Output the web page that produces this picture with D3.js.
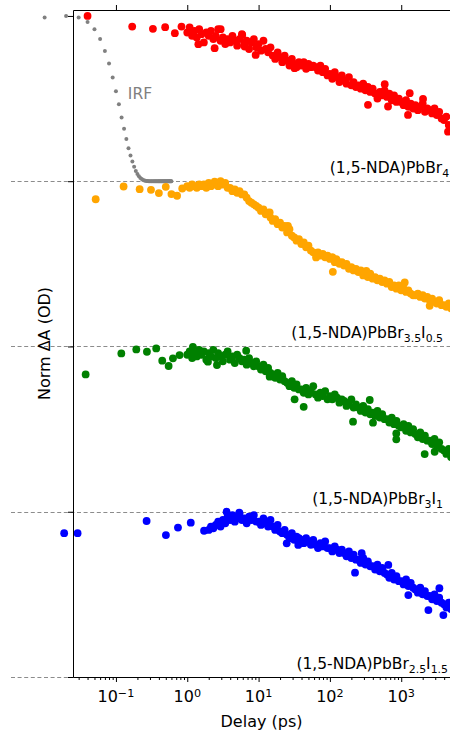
<!DOCTYPE html>
<html>
<head>
<meta charset="utf-8">
<script src="https://cdn.jsdelivr.net/npm/d3@7"></script>
<style>
  html, body { margin: 0; padding: 0; background: #fff; }
  svg { display: block; font-family: "DejaVu Sans", sans-serif; }
</style>
</head>
<body>
<svg id="chart" width="450" height="731"></svg>
<script>
// ---- Data: normalised transient absorption kinetics, stacked with unit offsets ----

// Shared delay grid (ps) for the long-time part of every trace
const delays = [
  1.00, 1.08, 1.17, 1.26, 1.36, 1.47,
  1.58, 1.71, 1.85, 2.00, 2.15, 2.32,
  2.51, 2.71, 2.93, 3.16, 3.41, 3.68,
  3.98, 4.30, 4.64, 5.01, 5.41, 5.84,
  6.31, 6.81, 7.36, 7.94, 8.58, 9.26,
  10.0, 10.8, 11.7, 12.6, 13.6, 14.7,
  15.8, 17.1, 18.5, 20.0, 21.5, 23.2,
  25.1, 27.1, 29.3, 31.6, 34.1, 36.8,
  39.8, 43.0, 46.4, 50.1, 54.1, 58.4,
  63.1, 68.1, 73.6, 79.4, 85.8, 92.6,
  100, 108, 117, 126, 136, 147,
  158, 171, 185, 200, 215, 232,
  251, 271, 293, 316, 341, 368,
  398, 430, 464, 501, 541, 584,
  631, 681, 736, 794, 858, 926,
  1000, 1080, 1170, 1260, 1360, 1470,
  1580, 1710, 1850, 2000, 2150, 2320,
  2510, 2710, 2930, 3160, 3410, 3680,
  3980, 4300, 4640, 5010
];

// (1,5-NDA)PbBr4
const redV = [
  0.90, 0.93, 0.88, 0.91, 0.87, 0.92,
  0.89, 0.84, 0.90, 0.88, 0.91, 0.86,
  0.88, 0.92, 0.85, 0.87, 0.83, 0.86,
  0.84, 0.88, 0.85, 0.82, 0.86, 0.89,
  0.83, 0.85, 0.80, 0.84, 0.86, 0.81,
  0.83, 0.79, 0.85, 0.80, 0.78, 0.81,
  0.76, 0.74, 0.78, 0.75, 0.72, 0.76,
  0.73, 0.70, 0.74, 0.71, 0.69, 0.72,
  0.70, 0.72, 0.68, 0.71, 0.69, 0.70,
  0.69, 0.67, 0.70, 0.66, 0.68, 0.64,
  0.65, 0.62, 0.66, 0.63, 0.60, 0.64,
  0.61, 0.59, 0.63, 0.58, 0.60, 0.57,
  0.58, 0.56, 0.59, 0.55, 0.57, 0.54,
  0.56, 0.53, 0.50, 0.54, 0.52, 0.55,
  0.51, 0.53, 0.49, 0.52, 0.48, 0.50,
  0.48, 0.46, 0.49, 0.45, 0.47, 0.44,
  0.46, 0.43, 0.45, 0.47, 0.42, 0.44,
  0.43, 0.41, 0.44, 0.40, 0.42, 0.38,
  0.37, 0.39, 0.34, 0.33
];
const redExtraT = [0.04, 0.169, 0.33, 0.49, 0.67, 0.83, 1.43, 2.42, 2.94, 5.9, 6.38, 9.1, 32, 342, 587, 653, 1245, 1316, 2022, 4530];
const redExtraV = [1.00, 0.936, 0.922, 0.932, 0.896, 0.936, 0.829, 0.805, 0.92, 0.885, 0.815, 0.764, 0.684, 0.462, 0.587, 0.452, 0.401, 0.533, 0.498, 0.30];

// (1,5-NDA)PbBr3.5I0.5
const orangeV = [
  0.97, 0.96, 0.98, 0.97, 0.96, 0.98,
  0.97, 0.98, 0.96, 0.99, 0.97, 0.98,
  0.99, 0.97, 1.00, 0.98, 0.99, 0.96,
  0.96, 0.94, 0.95, 0.93, 0.94, 0.92,
  0.92, 0.90, 0.88, 0.87, 0.86, 0.85,
  0.84, 0.82, 0.83, 0.80, 0.81, 0.78,
  0.76, 0.77, 0.74, 0.75, 0.72, 0.73,
  0.69, 0.71, 0.67, 0.66, 0.64, 0.65,
  0.62, 0.63, 0.60, 0.61, 0.58, 0.57,
  0.56, 0.57, 0.55, 0.56, 0.54, 0.55,
  0.53, 0.54, 0.51, 0.52, 0.50, 0.51,
  0.49, 0.50, 0.47, 0.48, 0.46, 0.47,
  0.45, 0.46, 0.43, 0.44, 0.42, 0.44,
  0.41, 0.42, 0.40, 0.41, 0.39, 0.40,
  0.38, 0.39, 0.36, 0.37, 0.35, 0.37,
  0.34, 0.35, 0.33, 0.34, 0.32, 0.31,
  0.31, 0.32, 0.30, 0.31, 0.29, 0.30,
  0.28, 0.29, 0.27, 0.26, 0.28, 0.25,
  0.25, 0.24, 0.26, 0.23
];
const orangeExtraT = [0.052, 0.128, 0.215, 0.31, 0.40, 0.50, 0.60, 0.72, 0.85, 2.42, 14.3, 25.8, 64, 110, 123, 324, 1120, 2505];
const orangeExtraV = [0.891, 0.968, 0.952, 0.948, 0.928, 0.966, 0.922, 0.912, 0.956, 0.997, 0.811, 0.73, 0.539, 0.452, 0.529, 0.458, 0.387, 0.246];

// (1,5-NDA)PbBr3I1
const greenV = [
  0.95, 0.97, 0.93, 0.96, 0.94, 0.98,
  0.95, 0.97, 0.92, 0.96, 0.94, 0.98,
  0.93, 0.96, 0.94, 0.91, 0.95, 0.97,
  0.92, 0.94, 0.90, 0.95, 0.93, 0.91,
  0.92, 0.89, 0.93, 0.90, 0.88, 0.91,
  0.88, 0.86, 0.89, 0.85, 0.87, 0.84,
  0.83, 0.81, 0.84, 0.80, 0.82, 0.79,
  0.78, 0.76, 0.79, 0.75, 0.77, 0.74,
  0.74, 0.72, 0.75, 0.71, 0.73, 0.76,
  0.71, 0.69, 0.72, 0.70, 0.73, 0.68,
  0.70, 0.68, 0.71, 0.69, 0.66, 0.68,
  0.67, 0.64, 0.66, 0.68, 0.63, 0.65,
  0.63, 0.61, 0.64, 0.60, 0.62, 0.59,
  0.60, 0.58, 0.61, 0.57, 0.59, 0.56,
  0.56, 0.54, 0.57, 0.53, 0.55, 0.52,
  0.51, 0.53, 0.49, 0.52, 0.48, 0.50,
  0.47, 0.45, 0.48, 0.44, 0.46, 0.43,
  0.43, 0.41, 0.44, 0.40, 0.42, 0.38,
  0.37, 0.35, 0.38, 0.33
];
const greenExtraT = [0.0376, 0.119, 0.193, 0.272, 0.367, 0.446, 0.548, 0.63, 0.78, 1.2, 1.95, 2.61, 6.7, 14.3, 32, 42.9, 211, 362, 402, 853, 853, 2133, 2944];
const greenExtraV = [0.831, 0.958, 0.982, 0.968, 0.988, 0.914, 0.882, 0.928, 0.948, 0.998, 0.908, 0.888, 0.974, 0.817, 0.68, 0.635, 0.545, 0.676, 0.539, 0.474, 0.438, 0.349, 0.363];

// (1,5-NDA)PbBr2.5I1.5  (no grid points recorded below 2 ps)
const blueV = [
  null, null, null, null, null, null,
  null, null, null, 0.89, 0.91, 0.90,
  0.92, 0.94, 0.91, 0.95, 0.93, 0.97,
  0.95, 0.98, 0.94, 0.96, 0.99, 0.95,
  0.96, 0.93, 0.97, 0.95, 0.98, 0.94,
  0.94, 0.92, 0.96, 0.93, 0.91, 0.95,
  0.91, 0.89, 0.92, 0.88, 0.87, 0.89,
  0.86, 0.84, 0.87, 0.83, 0.85, 0.84,
  0.83, 0.81, 0.84, 0.82, 0.80, 0.83,
  0.80, 0.78, 0.81, 0.79, 0.82, 0.78,
  0.78, 0.76, 0.79, 0.77, 0.75, 0.77,
  0.75, 0.73, 0.76, 0.72, 0.74, 0.71,
  0.71, 0.69, 0.72, 0.68, 0.70, 0.67,
  0.67, 0.65, 0.68, 0.64, 0.66, 0.63,
  0.62, 0.60, 0.63, 0.59, 0.61, 0.58,
  0.58, 0.56, 0.59, 0.55, 0.57, 0.54,
  0.53, 0.51, 0.54, 0.50, 0.52, 0.49,
  0.49, 0.47, 0.50, 0.46, 0.48, 0.45,
  0.44, 0.42, 0.45, 0.41
];
const blueExtraT = [0.0188, 0.029, 0.269, 0.502, 0.741, 1.12, 1.72, 3.56, 5.36, 24.8, 36, 225, 279, 659, 1259, 2404, 3428, 3900];
const blueExtraV = [0.870, 0.870, 0.944, 0.859, 0.904, 0.934, 0.885, 1.0, 0.994, 0.809, 0.799, 0.631, 0.749, 0.678, 0.496, 0.405, 0.537, 0.375];

// Instrument response function, shown on the top trace
const irfT = [
  0.01, 0.02, 0.03, 0.04, 0.05, 0.06, 0.07, 0.08, 0.09, 0.10,
  0.11, 0.12, 0.13, 0.14, 0.15, 0.16, 0.17, 0.18, 0.19, 0.20,
  0.21, 0.22, 0.23, 0.24, 0.25, 0.26, 0.27, 0.28, 0.29, 0.30,
  0.31, 0.32, 0.33, 0.34, 0.35, 0.36, 0.37, 0.38, 0.39, 0.40,
  0.41, 0.42, 0.43, 0.44, 0.45, 0.46, 0.47, 0.48, 0.49, 0.50,
  0.51, 0.52, 0.53, 0.54, 0.55, 0.56, 0.57, 0.58, 0.59, 0.60
];
const irfV = [
  0.99, 1.00, 0.99, 0.963, 0.919, 0.86, 0.788, 0.713, 0.628, 0.545,
  0.465, 0.386, 0.317, 0.255, 0.200, 0.156, 0.120, 0.087, 0.062, 0.044,
  0.030, 0.020, 0.013, 0.008, 0.005, 0.003, 0.002, 0.001, 0, 0,
  0, 0, 0, 0, 0, 0, 0, 0, 0, 0,
  0, 0, 0, 0, 0, 0, 0, 0, 0, 0,
  0, 0, 0, 0, 0, 0, 0, 0, 0, 0
];

// Stack offsets, colours and sample labels (text pieces: [text, isSubscript])
const offsets = [3, 2, 1, 0];
const colors = ["#ff0000", "#ffa500", "#008000", "#0000ff"];
const labelParts = [
  [["(1,5-NDA)PbBr", 0], ["4", 1]],
  [["(1,5-NDA)PbBr", 0], ["3.5", 1], ["I", 0], ["0.5", 1]],
  [["(1,5-NDA)PbBr", 0], ["3", 1], ["I", 0], ["1", 1]],
  [["(1,5-NDA)PbBr", 0], ["2.5", 1], ["I", 0], ["1.5", 1]]
];
const majorTicks = [0.1, 1, 10, 100, 1000];
const majorExponents = ["\u22121", "0", "1", "2", "3"];
const yTicks = [0, 1, 2, 3, 4];

// ---- Drawing ----
const svg = d3.select("#chart");
const W = 450;
const x = d3.scaleLog().domain([0.025, 4830]).range([73, 450]);
const y = d3.scaleLinear().domain([0, 4.036]).range([677, 10]);

const extrasT = [redExtraT, orangeExtraT, greenExtraT, blueExtraT];
const extrasV = [redExtraV, orangeExtraV, greenExtraV, blueExtraV];
const gridV = [redV, orangeV, greenV, blueV];

const series = offsets.map((off, i) => {
  const pts = extrasT[i].map((t, j) => ({ t, v: extrasV[i][j] }));
  gridV[i].forEach((v, j) => { if (v !== null) pts.push({ t: delays[j], v }); });
  return { off, color: colors[i], pts, parts: labelParts[i] };
});

// dashed baselines
svg.append("g").selectAll("line")
  .data([0, 1, 2, 3])
  .join("line")
  .attr("x1", 11).attr("x2", W)
  .attr("y1", d => Math.round(y(d)) + 0.5)
  .attr("y2", d => Math.round(y(d)) + 0.5)
  .attr("stroke", "#8c8c8c")
  .attr("stroke-width", 1)
  .attr("stroke-dasharray", "4,2.6");

// IRF
svg.append("g").selectAll("circle")
  .data(irfT.map((t, i) => ({ t, v: irfV[i] })))
  .join("circle")
  .attr("cx", d => x(d.t))
  .attr("cy", d => y(3 + d.v))
  .attr("r", 2)
  .attr("fill", "#808080");

svg.append("text")
  .attr("x", x(0.147)).attr("y", y(3.5))
  .attr("font-size", 15.5)
  .attr("fill", "#808080")
  .text("IRF");

// kinetics traces
series.forEach(s => {
  svg.append("g").selectAll("circle")
    .data(s.pts)
    .join("circle")
    .attr("cx", d => x(d.t))
    .attr("cy", d => y(s.off + d.v))
    .attr("r", 3.9)
    .attr("fill", s.color);
});

// sample labels
const labelEndT = [4700, 3850, 3850, 4530];
series.forEach((s, i) => {
  const t = svg.append("text")
    .attr("x", x(labelEndT[i]))
    .attr("y", y(s.off) - 8)
    .attr("text-anchor", "end")
    .attr("font-size", 15.5)
    .attr("fill", "#000");
  let shifted = false;
  s.parts.forEach(([txt, sub]) => {
    const ts = t.append("tspan").text(txt);
    if (sub && !shifted) { ts.attr("dy", 4).attr("font-size", 10.9); shifted = true; }
    else if (sub) { ts.attr("font-size", 10.9); }
    else if (!sub && shifted) { ts.attr("dy", -4); shifted = false; }
  });
});

// axes
const minorTicks = [];
for (let d = -2; d <= 3; d++) {
  for (let k = 2; k <= 9; k++) {
    const v = k * Math.pow(10, d);
    if (v >= 0.025 && v <= 4830) minorTicks.push(+v.toPrecision(3));
  }
}

const gBottomMinor = svg.append("g")
  .attr("transform", `translate(0,${y(0)})`)
  .call(d3.axisBottom(x).tickValues(minorTicks).tickSize(3).tickSizeOuter(0).tickFormat(""));
gBottomMinor.select(".domain").remove();

svg.append("g")
  .attr("transform", `translate(0,${y(0)})`)
  .call(d3.axisBottom(x).tickValues(majorTicks).tickSize(5).tickSizeOuter(0).tickFormat(""));

svg.append("g")
  .attr("transform", `translate(0,${y(4.036)})`)
  .call(d3.axisTop(x).tickValues(majorTicks).tickSize(5).tickSizeOuter(0).tickFormat(""));

svg.append("g")
  .attr("transform", `translate(${x(0.025)},0)`)
  .call(d3.axisLeft(y).tickValues(yTicks).tickSize(5).tickSizeOuter(0).tickFormat(""));

svg.selectAll(".domain").attr("stroke", "#000");

// decade tick labels with superscripts
majorTicks.forEach((v, i) => {
  const t = svg.append("text")
    .attr("x", x(v))
    .attr("y", 702)
    .attr("text-anchor", "middle")
    .attr("font-size", 16)
    .attr("fill", "#000");
  t.append("tspan").text("10");
  t.append("tspan").attr("dy", -5.5).attr("font-size", 11.2).text(majorExponents[i]);
});

// axis titles
svg.append("text")
  .attr("x", (x(0.025) + W) / 2)
  .attr("y", 727)
  .attr("text-anchor", "middle")
  .attr("font-size", 16)
  .text("Delay (ps)");

svg.append("text")
  .attr("transform", `translate(49.5,${(y(0) + y(4.036)) / 2}) rotate(-90)`)
  .attr("text-anchor", "middle")
  .attr("font-size", 16)
  .text("Norm \u0394A (OD)");
</script>
</body>
</html>
